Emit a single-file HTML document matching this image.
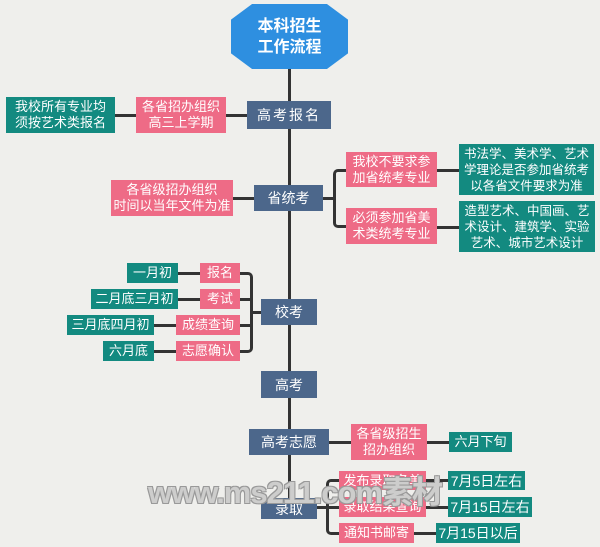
<!DOCTYPE html>
<html><head><meta charset="utf-8"><style>
body{margin:0;width:600px;height:547px;background:#efefec;position:relative;overflow:hidden;font-family:"Liberation Sans","Noto Sans CJK SC",sans-serif}
.b{position:absolute;display:flex;align-items:center;justify-content:center;text-align:center;color:#fff;font-size:13px;line-height:16px;box-sizing:border-box}
.t{background:#138a80}.p{background:#ee6b86}.n{background:#4c678b;font-size:14px}
.l{position:absolute;background:#333}
.br{position:absolute;border:3px solid #333;border-left:none;border-radius:0 5px 5px 0;box-sizing:border-box}
.bl{position:absolute;border:3px solid #333;border-right:none;border-radius:5px 0 0 5px;box-sizing:border-box}
</style></head><body>
<div class="l" style="left:288px;top:60px;width:3px;height:450px"></div>
<div class="b" style="left:231px;top:4px;width:117px;height:65px;background:#2e8fe0;clip-path:polygon(18% 0,82% 0,100% 24%,100% 76%,82% 100%,18% 100%,0 76%,0 24%);font-size:16px;font-weight:bold;line-height:21px">本科招生<br>工作流程</div>

<div class="l" style="left:110px;top:114px;width:140px;height:3px"></div>
<div class="b t" style="left:6px;top:97px;width:109px;height:36px">我校所有专业均<br>须按艺术类报名</div>
<div class="b p" style="left:136px;top:97px;width:90px;height:36px">各省招办组织<br>高三上学期</div>
<div class="b n" style="left:247px;top:101px;width:84px;height:28px;letter-spacing:2px">高考报名</div>

<div class="l" style="left:230px;top:197px;width:30px;height:3px"></div>
<div class="l" style="left:320px;top:197px;width:15px;height:3px"></div>
<div class="bl" style="left:333px;top:169px;width:14px;height:59px"></div>
<div class="l" style="left:436px;top:169px;width:25px;height:3px"></div>
<div class="l" style="left:436px;top:226px;width:25px;height:3px"></div>
<div class="b p" style="left:111px;top:180px;width:122px;height:36px">各省级招办组织<br>时间以当年文件为准</div>
<div class="b n" style="left:254px;top:185px;width:69px;height:26px">省统考</div>
<div class="b p" style="left:346px;top:152px;width:91px;height:35px">我校不要求参<br>加省统考专业</div>
<div class="b p" style="left:346px;top:208px;width:91px;height:36px">必须参加省美<br>术类统考专业</div>
<div class="b t" style="left:459px;top:144px;width:135px;height:51px;font-size:12.5px">书法学、美术学、艺术<br>学理论是否参加省统考<br>以各省文件要求为准</div>
<div class="b t" style="left:459px;top:201px;width:136px;height:51px;font-size:12.5px">造型艺术、中国画、艺<br>术设计、建筑学、实验<br>艺术、城市艺术设计</div>

<div class="br" style="left:238px;top:272px;width:15px;height:81px"></div>
<div class="l" style="left:238px;top:298px;width:14px;height:3px"></div>
<div class="l" style="left:238px;top:324px;width:14px;height:3px"></div>
<div class="l" style="left:250px;top:311px;width:14px;height:3px"></div>
<div class="l" style="left:170px;top:272px;width:35px;height:3px"></div>
<div class="l" style="left:170px;top:298px;width:35px;height:3px"></div>
<div class="l" style="left:150px;top:324px;width:30px;height:3px"></div>
<div class="l" style="left:150px;top:350px;width:30px;height:3px"></div>
<div class="b t" style="left:127px;top:263px;width:51px;height:20px">一月初</div>
<div class="b p" style="left:200px;top:263px;width:40px;height:20px">报名</div>
<div class="b t" style="left:91px;top:289px;width:87px;height:20px">二月底三月初</div>
<div class="b p" style="left:200px;top:289px;width:40px;height:20px">考试</div>
<div class="b t" style="left:67px;top:315px;width:87px;height:20px">三月底四月初</div>
<div class="b p" style="left:176px;top:315px;width:64px;height:20px">成绩查询</div>
<div class="b t" style="left:103px;top:341px;width:51px;height:20px">六月底</div>
<div class="b p" style="left:176px;top:341px;width:64px;height:20px">志愿确认</div>
<div class="b n" style="left:261px;top:299px;width:56px;height:26px">校考</div>

<div class="b n" style="left:261px;top:371px;width:56px;height:27px">高考</div>

<div class="l" style="left:325px;top:441px;width:130px;height:3px"></div>
<div class="b n" style="left:249px;top:429px;width:80px;height:26px">高考志愿</div>
<div class="b p" style="left:351px;top:424px;width:76px;height:36px">各省级招生<br>招办组织</div>
<div class="b t" style="left:449px;top:432px;width:63px;height:20px">六月下旬</div>

<div class="bl" style="left:326px;top:479px;width:15px;height:56px"></div>
<div class="l" style="left:315px;top:506px;width:25px;height:3px"></div>
<div class="l" style="left:420px;top:479px;width:30px;height:3px"></div>
<div class="l" style="left:420px;top:506px;width:30px;height:3px"></div>
<div class="l" style="left:410px;top:532px;width:30px;height:3px"></div>
<div class="b n" style="left:261px;top:498px;width:56px;height:21px">录取</div>
<div class="b p" style="left:339px;top:471px;width:87px;height:19px">发布录取名单</div>
<div class="b p" style="left:339px;top:497px;width:87px;height:20px">录取结果查询</div>
<div class="b p" style="left:339px;top:523px;width:75px;height:20px">通知书邮寄</div>
<div class="b t" style="left:448px;top:471px;width:77px;height:19px;font-size:14px">7月5日左右</div>
<div class="b t" style="left:448px;top:497px;width:84px;height:20px;font-size:14px">7月15日左右</div>
<div class="b t" style="left:436px;top:523px;width:84px;height:20px;font-size:14px">7月15日以后</div>

<div style="position:absolute;left:148px;top:467px;font-size:31px;font-weight:bold;color:rgba(240,240,238,0.6);text-shadow:1px 1px 0 #999,-1px -1px 0 #999,1px -1px 0 #999,-1px 1px 0 #999;letter-spacing:-1px;white-space:nowrap">www.ms211.com素材</div>
</body></html>
